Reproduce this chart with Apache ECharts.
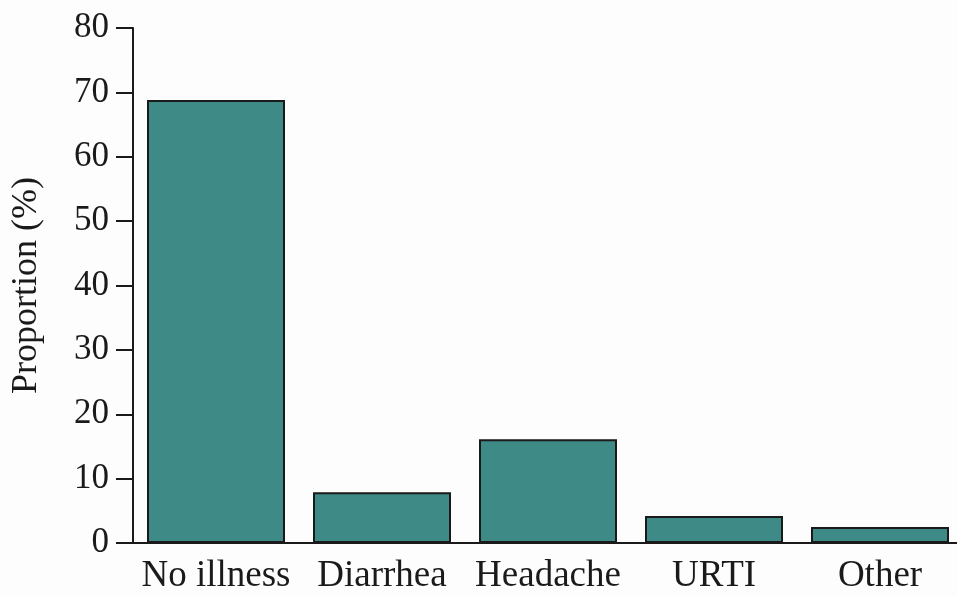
<!DOCTYPE html>
<html><head><meta charset="utf-8">
<script src="https://cdn.jsdelivr.net/npm/echarts@6/dist/echarts.min.js"></script>
<style>html,body{margin:0;padding:0;background:#fff}#c{width:957px;height:596px}</style>
</head><body><div id="c"></div>
<script>
const categories = ["No illness", "Diarrhea", "Headache", "URTI", "Other"];
const proportions = [68.8, 7.9, 16.1, 4.2, 2.5];
const yTicks = [0, 10, 20, 30, 40, 50, 60, 70, 80];

const font = "'Liberation Serif', 'Times New Roman', serif";
const chart = echarts.init(document.getElementById('c'));
chart.setOption({
  backgroundColor: '#fdfdfd',
  animation: false,
  grid: { left: 133, top: 28, bottom: 53, right: -6, containLabel: false, outerBoundsMode: 'none' },
  xAxis: {
    type: 'category',
    data: categories,
    axisLine: { lineStyle: { color: '#1a1a1a', width: 2 } },
    axisTick: { alignWithLabel: true, length: 15, lineStyle: { color: '#1a1a1a', width: 2 } },
    axisLabel: { interval: 0, hideOverlap: false, color: '#1a1a1a', fontFamily: font, fontSize: 37, margin: 15 }
  },
  yAxis: {
    type: 'value',
    min: yTicks[0], max: yTicks[yTicks.length - 1], interval: 10,
    name: 'Proportion (%)',
    nameLocation: 'middle',
    nameGap: 88,
    nameTextStyle: { color: '#1a1a1a', fontFamily: font, fontSize: 36 },
    axisLine: { show: true, lineStyle: { color: '#1a1a1a', width: 2 } },
    axisTick: { show: true, length: 17, lineStyle: { color: '#1a1a1a', width: 2 } },
    axisLabel: { color: '#1a1a1a', fontFamily: font, fontSize: 35, margin: 24 },
    splitLine: { show: false }
  },
  series: [{
    type: 'bar',
    data: proportions,
    barWidth: 138,
    itemStyle: { color: '#3e8a86', borderColor: '#1a1a1a', borderWidth: 2 }
  }]
});
</script></body></html>
